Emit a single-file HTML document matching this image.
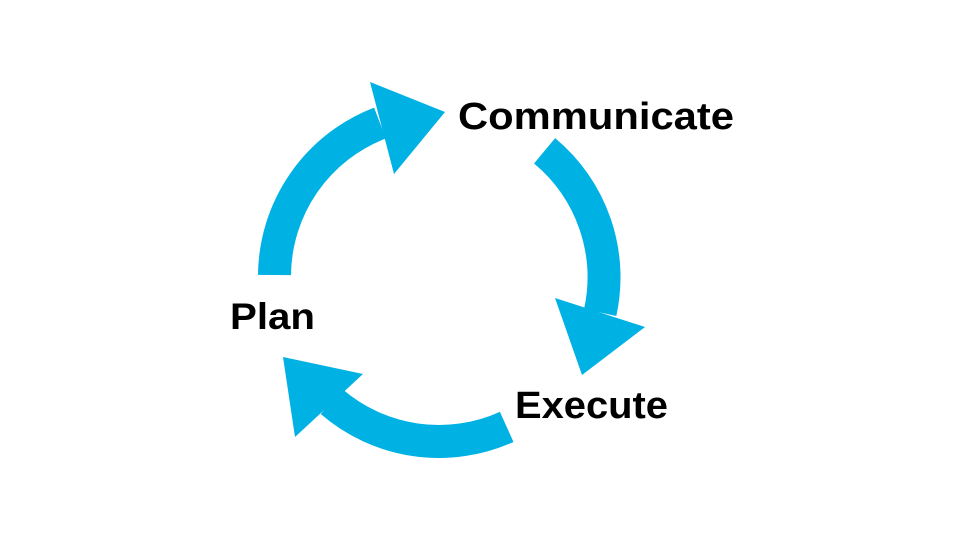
<!DOCTYPE html>
<html><head><meta charset="utf-8"><style>
html,body{margin:0;padding:0;background:#fff;width:960px;height:540px;overflow:hidden}
svg{display:block}
text{font-family:"Liberation Sans",sans-serif;font-weight:bold;fill:#000}
</style></head><body>
<svg width="960" height="540" viewBox="0 0 960 540">
<g fill="none" stroke="#00b1e4" stroke-width="33">
<path d="M274.5 275 A164.5 164.5 0 0 1 380 123"/>
<path d="M544.6 150.8 A164.5 164.5 0 0 1 600.2 312.5"/>
<path d="M506.7 426.9 A164.5 164.5 0 0 1 331.5 401.5"/>
</g>
<g fill="#00b1e4">
<polygon points="370,82 445,112 394,174"/>
<polygon points="555,298 645,327 582,375"/>
<polygon points="283,357 363,374 295,437"/>
</g>
<text x="458" y="129" font-size="38" textLength="276" lengthAdjust="spacingAndGlyphs">Communicate</text>
<text x="230" y="329" font-size="37" textLength="85" lengthAdjust="spacingAndGlyphs">Plan</text>
<text x="515" y="418" font-size="38" textLength="153" lengthAdjust="spacingAndGlyphs">Execute</text>
</svg>
</body></html>
